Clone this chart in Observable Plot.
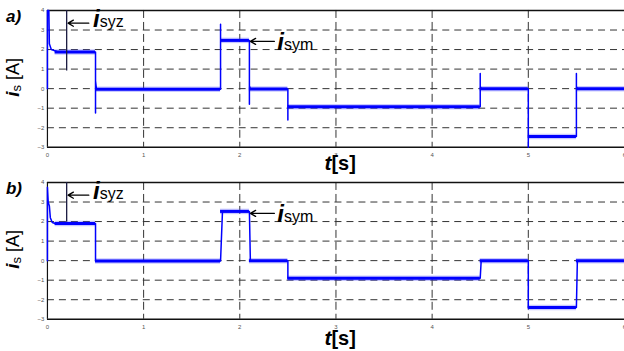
<!DOCTYPE html>
<html><head><meta charset="utf-8">
<script src="https://cdn.jsdelivr.net/npm/d3@7"></script>
<script src="https://cdn.jsdelivr.net/npm/@observablehq/plot@0.6"></script>
<style>
html,body{margin:0;padding:0;background:#fff;overflow:hidden}
#root{position:relative;width:624px;height:351px;overflow:hidden}
#root svg{display:block;overflow:visible}
</style></head><body><div id="root"></div>
<script>
// ---- data ----
const xTicks = [0, 1, 2, 3, 4, 5, 6];
const yTicks = [-3, -2, -1, 0, 1, 2, 3, 4];
const xGrid = [1, 2, 3, 4, 5];
const yGrid = [-2, -1, 0, 1, 2, 3];

// step boundaries (s)
const segStart = [0.08, 0.5, 1.8, 2.1, 2.5, 4.5, 5.0, 5.5];
const segEnd   = [0.5, 1.8, 2.1, 2.5, 4.5, 5.0, 5.5, 6.0];

// panel a) plateau levels and trace with transients
const levelsA = [1.88, -0.03, 2.47, -0.02, -0.93, 0.0, -2.45, 0.0];
const traceTA = [0, 0, 0.015, 0.02, 0.04, 0.1, 0.5, 0.5, 0.5, 0.51, 1.8, 1.8, 1.8, 1.81, 2.1, 2.1, 2.1, 2.11, 2.5, 2.5, 2.5, 2.51, 4.5, 4.5, 4.5, 4.51, 5.0, 5.0, 5.0, 5.01, 5.5, 5.5, 5.5, 5.51, 6.0];
const traceVA = [0, 4, 4, 2.3, 2.0, 1.9, 1.88, -1.25, 0.4, -0.03, -0.03, 3.3, 2.5, 2.47, 2.47, -0.8, 0.15, -0.02, -0.02, -1.6, -0.85, -0.93, -0.93, 0.77, 0.1, 0.0, 0.0, -3.0, -2.4, -2.45, -2.45, 0.77, 0.1, 0.0, 0.0];

// panel b) plateau levels and trace
const levelsB = [1.9, -0.02, 2.52, -0.01, -0.9, 0.0, -2.4, 0.0];
const traceTB = [0, 0, 0.008, 0.02, 0.03, 0.05, 0.08, 0.15, 0.5, 0.5, 1.8, 1.82, 2.1, 2.11, 2.5, 2.5, 4.5, 4.51, 5.0, 5.0, 5.5, 5.51, 6.0];
const traceVB = [0, 3.75, 3.0, 2.8, 2.2, 1.95, 1.9, 1.9, 1.9, -0.02, -0.02, 2.52, 2.52, -0.01, -0.01, -0.9, -0.9, 0, 0, -2.4, -2.4, 0, 0];

// marker at t = 0.2 s (i_syz instant): top / bottom values
const markerT = 0.2;
const markerA = [4, 0.9];
const markerB = [4, 1.97];

const FONT = "'Liberation Sans', Arial, Helvetica, sans-serif";
const root = d3.select("#root");

function addText(svg, x, y, parts, extra = {}) {
  const t = svg.append("text").attr("x", x).attr("y", y)
    .attr("font-family", FONT).attr("fill", "#000").attr("text-anchor", "start");
  for (const [k, v] of Object.entries(extra)) t.attr(k, v);
  parts.forEach(p => {
    const s = t.append("tspan").text(p.text).attr("font-size", p.size);
    if (p.w) s.attr("font-weight", p.w);
    if (p.st) s.attr("font-style", p.st);
    if (p.dy) s.attr("dy", p.dy);
  });
  return t;
}

function makePanel(cfg) {
  const trace = cfg.t.map((t, i) => ({t, v: cfg.v[i]}));
  const plateaus = segStart.map((s, i) => ({t0: s, t1: segEnd[i], v: cfg.levels[i]}));
  const mk = [{t: markerT, y1: cfg.marker[0], y2: cfg.marker[1]}];
  const plot = Plot.plot({
    width: 625, height: cfg.height,
    marginLeft: 47, marginRight: 0, marginTop: 10, marginBottom: cfg.mb,
    x: {domain: [0, 6]}, y: {domain: [-3, 4]},
    style: {fontFamily: FONT, background: "transparent", overflow: "visible"},
    marks: [
      Plot.gridY(yGrid, {stroke: "#333", strokeOpacity: 1, strokeWidth: 1, strokeDasharray: "7,5"}),
      Plot.gridX(xGrid, {stroke: "#333", strokeOpacity: 1, strokeWidth: 1, strokeDasharray: "8,4"}),
      Plot.ruleY([4, -3], {stroke: "#111", strokeWidth: 1.4}),
      Plot.ruleX([0], {stroke: "#111", strokeWidth: 1.2}),
      Plot.axisX(xTicks, {tickSize: 0, tickPadding: 5, fontSize: 6, color: "#555", label: null}),
      Plot.axisY(yTicks, {tickSize: 0, tickPadding: 3, fontSize: 6, color: "#555", label: null}),
      Plot.ruleY(plateaus, {y: "v", x1: "t0", x2: "t1", stroke: "#4a4aff", strokeOpacity: 0.3, strokeWidth: 5.5}),
      Plot.line(trace, {x: "t", y: "v", stroke: "#0000ff", strokeWidth: 1.5}),
      Plot.ruleY(plateaus, {y: "v", x1: "t0", x2: "t1", stroke: "#0000ff", strokeWidth: 3}),
      Plot.ruleX(mk, {x: "t", y1: "y1", y2: "y2", stroke: "#1a1a40", strokeWidth: 1.3}),
      Plot.arrow([{x1: 0.43, y1: 3.35, x2: 0.215, y2: 3.35}], {x1: "x1", y1: "y1", x2: "x2", y2: "y2", bend: 0, headLength: 7, stroke: "#000", strokeWidth: 1.3}),
      Plot.arrow([{x1: 2.36, y1: 2.42, x2: 2.11, y2: 2.42}], {x1: "x1", y1: "y1", x2: "x2", y2: "y2", bend: 0, headLength: 7, stroke: "#000", strokeWidth: 1.3})
    ]
  });
  root.node().appendChild(plot);
  const svg = d3.select(plot);
  const sx = plot.scale("x"), sy = plot.scale("y");
  // annotations
  addText(svg, sx.apply(0.48), sy.apply(3.11), [
    {text: "i", size: 24, w: "bold", st: "italic"},
    {text: "syz", size: 16}
  ]);
  addText(svg, sx.apply(2.395), sy.apply(1.93), [
    {text: "i", size: 24, w: "bold", st: "italic"},
    {text: "sym", size: 16}
  ]);
  // panel letter
  addText(svg, 6, 22, [{text: cfg.letter, size: 17, w: "bold", st: "italic"}]);
  // y label
  addText(svg, 0, 0, [
    {text: "i", size: 19, st: "italic", w: "bold"},
    {text: "s", size: 13, dy: 2},
    {text: " [A]", size: 18, dy: -2}
  ], {"transform": "translate(19,97) rotate(-90)"});
  // x label
  addText(svg, 325, cfg.tBase, [
    {text: "t", size: 21, w: "bold", st: "italic"},
    {text: "[s]", size: 20, w: "bold"}
  ]);
}

makePanel({t: traceTA, v: traceVA, levels: levelsA, marker: markerA, height: 172, mb: 25, letter: "a)", tBase: 170});
makePanel({t: traceTB, v: traceVB, levels: levelsB, marker: markerB, height: 179, mb: 32, letter: "b)", tBase: 173});
</script></body></html>
